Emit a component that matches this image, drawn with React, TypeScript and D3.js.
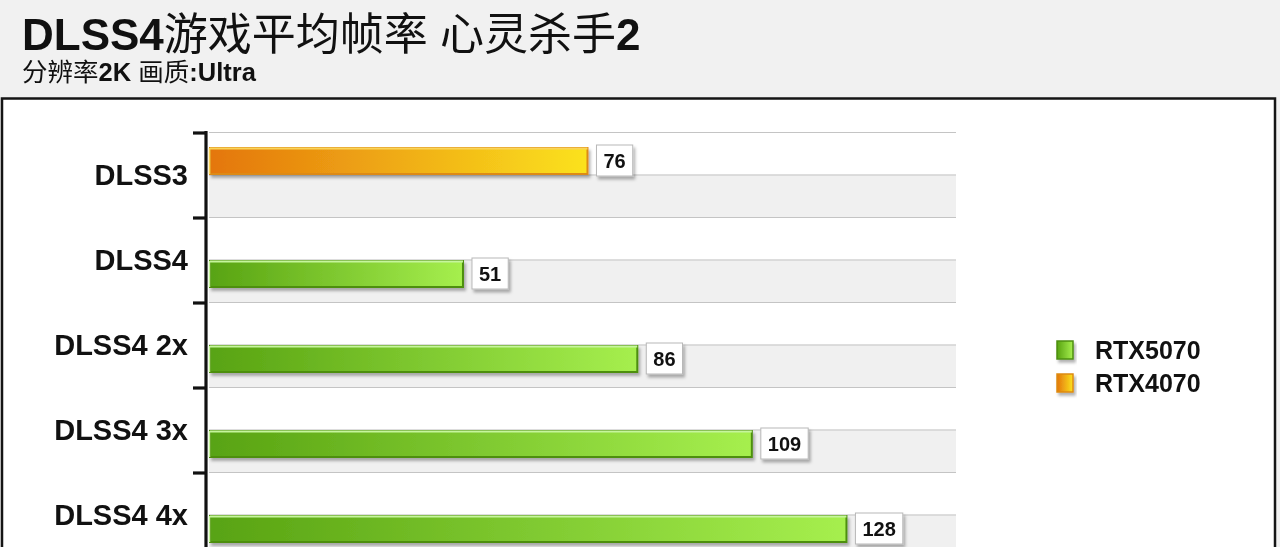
import * as d3 from 'd3';
import { useEffect, useRef } from 'react';

const categories = ['DLSS3', 'DLSS4', 'DLSS4 2x', 'DLSS4 3x', 'DLSS4 4x'];
const seriesNames = ['RTX5070', 'RTX4070'];
const rtx5070: (number | null)[] = [null, 51, 86, 109, 128];
const rtx4070: (number | null)[] = [76, null, null, null, null];
const titleParts = [
  { t: 'DLSS4', cjk: false },
  { t: '游戏平均帧率', cjk: true },
  { t: ' ', cjk: false },
  { t: '心灵杀手', cjk: true },
  { t: '2', cjk: false },
];
const subtitleParts = [
  { t: '分辨率', cjk: true },
  { t: '2K ', cjk: false },
  { t: '画质', cjk: true },
  { t: ':Ultra', cjk: false },
];

const W = 1280;
const H = 547;
const latin = '"Liberation Sans", Arial, sans-serif';
const cjkFont = '"Noto Sans CJK SC", sans-serif';

const palette: Record<string, { dark: string; light: string; edge: string; hi: string }> = {
  RTX5070: { dark: '#58a312', light: '#a6ef4e', edge: '#4d8f10', hi: '#c6f59c' },
  RTX4070: { dark: '#e4760c', light: '#fbe21e', edge: '#dd8a12', hi: '#f9d45a' },
};

export default function App() {
  const ref = useRef<SVGSVGElement>(null);

  useEffect(() => {
    const svg = d3.select(ref.current!);
    svg.selectAll('*').remove();

    const defs = svg.append('defs');
    seriesNames.forEach((s) => {
      const g = defs
        .append('linearGradient')
        .attr('id', `grad-${s}`)
        .attr('x1', '0%')
        .attr('x2', '100%');
      g.append('stop').attr('offset', '0%').attr('stop-color', palette[s].dark);
      g.append('stop').attr('offset', '100%').attr('stop-color', palette[s].light);
    });
    const f = defs
      .append('filter')
      .attr('id', 'shadow')
      .attr('x', '-10%')
      .attr('y', '-30%')
      .attr('width', '130%')
      .attr('height', '180%');
    f.append('feDropShadow')
      .attr('dx', 2)
      .attr('dy', 3)
      .attr('stdDeviation', 1.5)
      .attr('flood-color', '#000')
      .attr('flood-opacity', 0.3);

    // background + header
    svg.append('rect').attr('width', W).attr('height', H).attr('fill', '#f1f1f1');

    const title = svg
      .append('text')
      .attr('x', 22)
      .attr('y', 50)
      .style('font-size', '44px')
      .attr('fill', '#111');
    titleParts.forEach((p) =>
      title
        .append('tspan')
        .style('font-family', p.cjk ? cjkFont : latin)
        .style('font-weight', p.cjk ? 'normal' : 'bold')
        .text(p.t)
    );

    const sub = svg
      .append('text')
      .attr('x', 22)
      .attr('y', 81)
      .style('font-size', '25.5px')
      .attr('fill', '#111');
    subtitleParts.forEach((p) =>
      sub
        .append('tspan')
        .style('font-family', p.cjk ? cjkFont : latin)
        .style('font-weight', p.cjk ? 'normal' : 'bold')
        .text(p.t)
    );

    // panel
    svg
      .append('rect')
      .attr('x', 2)
      .attr('y', 98.5)
      .attr('width', 1273)
      .attr('height', 470)
      .attr('fill', '#fff')
      .attr('stroke', '#151515')
      .attr('stroke-width', 2.5);

    const step = 85;
    const y = d3
      .scaleBand()
      .domain(categories)
      .range([132, 132 + step * categories.length])
      .padding(0);
    const sub2 = d3.scaleBand().domain(['RTX4070', 'RTX5070']).range([16, 72]);
    const x = d3.scaleLinear().domain([0, 150]).range([209, 956]);

    const plot = svg.append('g');

    // stripes and gridlines
    plot
      .selectAll('.stripe')
      .data(categories)
      .enter()
      .append('rect')
      .attr('x', x(0))
      .attr('y', (d) => y(d)! + step / 2)
      .attr('width', x(150) - x(0))
      .attr('height', step / 2)
      .attr('fill', '#f0f0f0');
    const lines = categories.flatMap((c) => [y(c)!, y(c)! + step / 2]);
    plot
      .selectAll('.grid')
      .data(lines)
      .enter()
      .append('line')
      .attr('x1', x(0))
      .attr('x2', x(150))
      .attr('y1', (d) => d + 0.5)
      .attr('y2', (d) => d + 0.5)
      .attr('stroke', '#c4c4c4')
      .attr('stroke-width', 1.2);

    // axis
    const axisX = 206;
    plot
      .append('line')
      .attr('x1', axisX)
      .attr('x2', axisX)
      .attr('y1', 131)
      .attr('y2', H)
      .attr('stroke', '#111')
      .attr('stroke-width', 3.2);
    plot
      .selectAll('.tick')
      .data(categories)
      .enter()
      .append('line')
      .attr('x1', axisX - 13)
      .attr('x2', axisX)
      .attr('y1', (d) => y(d)! + 1)
      .attr('y2', (d) => y(d)! + 1)
      .attr('stroke', '#111')
      .attr('stroke-width', 3.2);
    plot
      .selectAll('.cat')
      .data(categories)
      .enter()
      .append('text')
      .attr('x', 188)
      .attr('y', (d) => y(d)! + step / 2)
      .attr('dy', '0.36em')
      .attr('text-anchor', 'end')
      .style('font-family', latin)
      .style('font-weight', 'bold')
      .style('font-size', '29px')
      .attr('fill', '#111')
      .text((d) => d);

    // bars
    const bars: { cat: string; series: string; value: number }[] = [];
    categories.forEach((c, i) => {
      if (rtx4070[i] != null) bars.push({ cat: c, series: 'RTX4070', value: rtx4070[i]! });
      if (rtx5070[i] != null) bars.push({ cat: c, series: 'RTX5070', value: rtx5070[i]! });
    });

    bars.forEach((b) => {
      const top = y(b.cat)! + sub2(b.series)!;
      const h = sub2.bandwidth() - 2;
      const x0 = x(0) + 1;
      const x1 = x(b.value);
      const p = palette[b.series];
      const g = plot.append('g');
      g.append('rect')
        .attr('x', x0)
        .attr('y', top)
        .attr('width', x1 - x0)
        .attr('height', h)
        .attr('fill', `url(#grad-${b.series})`)
        .attr('stroke', p.edge)
        .attr('stroke-width', 2)
        .attr('filter', 'url(#shadow)');
      g.append('line')
        .attr('x1', x0)
        .attr('x2', x1)
        .attr('y1', top + 0.5)
        .attr('y2', top + 0.5)
        .attr('stroke', p.hi)
        .attr('stroke-width', 2);
      g.append('line')
        .attr('x1', x0 - 0.5)
        .attr('x2', x0 - 0.5)
        .attr('y1', top)
        .attr('y2', top + h)
        .attr('stroke', p.hi)
        .attr('stroke-width', 1.5);

      // value label
      const cy = top + h / 2;
      const lab = g.append('g');
      const box = lab.append('rect');
      const txt = lab
        .append('text')
        .attr('y', cy)
        .attr('dy', '0.36em')
        .attr('text-anchor', 'middle')
        .style('font-family', latin)
        .style('font-weight', 'bold')
        .style('font-size', '20px')
        .attr('fill', '#111')
        .text(b.value);
      const tw = (txt.node() as SVGTextElement).getComputedTextLength();
      const bw = tw + 14;
      const bx = x1 + 9;
      txt.attr('x', bx + bw / 2);
      box
        .attr('x', bx)
        .attr('y', cy - 16)
        .attr('width', bw)
        .attr('height', 31)
        .attr('fill', '#fff')
        .attr('stroke', '#b8b8b8')
        .attr('stroke-width', 1)
        .attr('filter', 'url(#shadow)');
    });

    // legend
    const legend = svg.append('g');
    seriesNames.forEach((s, i) => {
      const ly = 350 + i * 33;
      const p = palette[s];
      legend
        .append('rect')
        .attr('x', 1057)
        .attr('y', ly - 9)
        .attr('width', 16)
        .attr('height', 18)
        .attr('fill', `url(#grad-${s})`)
        .attr('stroke', p.edge)
        .attr('stroke-width', 1.5)
        .attr('filter', 'url(#shadow)');
      legend
        .append('text')
        .attr('x', 1095)
        .attr('y', ly)
        .attr('dy', '0.36em')
        .style('font-family', latin)
        .style('font-weight', 'bold')
        .style('font-size', '25px')
        .attr('fill', '#111')
        .text(s);
    });
  }, []);

  return (
    <div style={{ position: 'fixed', left: 0, top: 0 }}>
      <svg ref={ref} width={W} height={H} style={{ display: 'block' }} />
    </div>
  );
}
